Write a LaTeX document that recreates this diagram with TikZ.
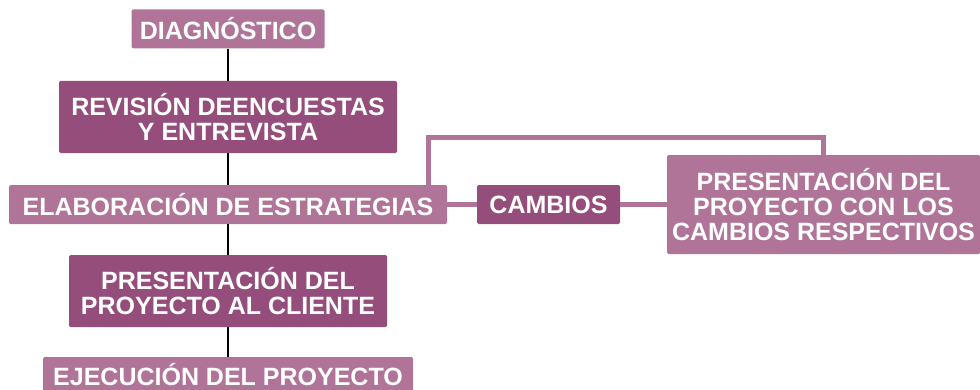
\documentclass[tikz,border=0pt]{standalone}
\usepackage{fontspec}
\setmainfont{Liberation Sans}
\definecolor{lightpurple}{HTML}{B07498}
\definecolor{darkpurple}{HTML}{954E7C}
\tikzset{
  box/.style={rounded corners=1.5pt, text=white, align=center,
    font=\bfseries\fontsize{25}{25}\selectfont, inner sep=0pt, anchor=center},
  lightbox/.style={box, fill=lightpurple},
  darkbox/.style={box, fill=darkpurple},
  blackline/.style={draw=black, line width=2.5pt},
  purpleline/.style={draw=lightpurple, line width=5pt, line join=miter},
}
\begin{document}
\begin{tikzpicture}[x=1pt,y=1pt]
\useasboundingbox (0,0) rectangle (980,389);
\begin{scope}
\clip (0,0) rectangle (980,389);
\node[lightbox, minimum width=193pt, minimum height=39pt] (diag) at (228,360) {DIAGNÓSTICO};
\node[darkbox, minimum width=338pt, minimum height=72pt] (rev) at (228,272) {REVISIÓN DEENCUESTAS\\Y ENTREVISTA};
\node[lightbox, minimum width=438pt, minimum height=39pt] (elab) at (228,184.5) {ELABORACIÓN DE ESTRATEGIAS};
\node[darkbox, minimum width=143pt, minimum height=39pt] (camb) at (548.5,184.5) {CAMBIOS};
\node[lightbox, minimum width=313pt, minimum height=99pt] (pcc) at (823.5,184.5) {PRESENTACIÓN DEL\\PROYECTO CON LOS\\CAMBIOS RESPECTIVOS};
\node[darkbox, minimum width=318pt, minimum height=72pt] (pcl) at (228,98) {PRESENTACIÓN DEL\\PROYECTO AL CLIENTE};
\node[lightbox, minimum width=370pt, minimum height=36pt] (ejec) at (228,14) {EJECUCIÓN DEL PROYECTO};
\draw[blackline] (diag.south) -- (rev.north);
\draw[blackline] (rev.south) -- (elab.north);
\draw[blackline] (elab.south) -- (pcl.north);
\draw[blackline] (pcl.south) -- (ejec.north);
\draw[purpleline] (elab.east) -- (camb.west);
\draw[purpleline] (camb.east) -- (pcc.west);
\draw[purpleline] ([xshift=200pt]elab.north) -- ++(0,47) -| (pcc.north);
\end{scope}
\end{tikzpicture}
\end{document}
